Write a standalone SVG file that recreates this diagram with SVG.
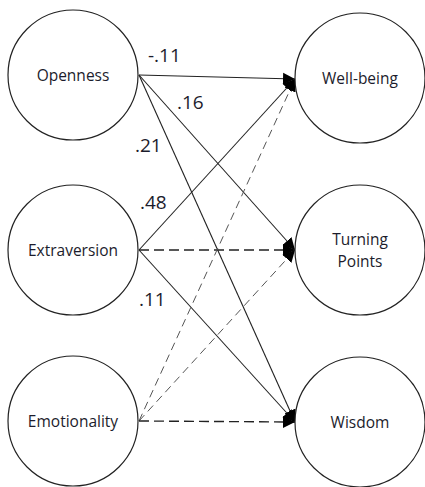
<svg xmlns="http://www.w3.org/2000/svg" width="425" height="487" viewBox="0 0 425 487">
<defs>
<style>
.node circle{fill:#fff;stroke:#222;stroke-width:1.2}
.node text{font-family:"Open Sans","Liberation Sans",sans-serif;font-size:15.5px;fill:#1c1c2c;text-anchor:middle}
.lbl{font-family:"Open Sans","Liberation Sans",sans-serif;font-size:19px;fill:#1c1c2c}
.solid{stroke:#222;stroke-width:1.1;fill:none}
.dash{stroke:#222;stroke-width:1.4;fill:none;stroke-dasharray:10 5}
.ldash{stroke:#555;stroke-width:1;fill:none;stroke-dasharray:8 5}
</style>
<marker id="arr" viewBox="0 0 12 14" refX="12" refY="7" markerWidth="12" markerHeight="14" markerUnits="userSpaceOnUse" orient="auto">
<path d="M0,1 L12,7 L0,13 Z" fill="#000"/>
</marker>
</defs>
<g id="connectors">
<line class="solid" x1="139" y1="75" x2="295" y2="79" marker-end="url(#arr)"/>
<line class="solid" x1="139" y1="75" x2="295" y2="250" marker-end="url(#arr)"/>
<line class="solid" x1="139" y1="75" x2="295" y2="422" marker-end="url(#arr)"/>
<line class="solid" x1="139" y1="250" x2="295" y2="79" marker-end="url(#arr)"/>
<line class="dash" x1="139" y1="250" x2="295" y2="250" marker-end="url(#arr)"/>
<line class="solid" x1="139" y1="250" x2="295" y2="422" marker-end="url(#arr)"/>
<line class="ldash" x1="139" y1="421" x2="295" y2="79" marker-end="url(#arr)"/>
<line class="ldash" x1="139" y1="421" x2="295" y2="250" marker-end="url(#arr)"/>
<line class="dash" x1="139" y1="421" x2="295" y2="422" marker-end="url(#arr)"/>
<text class="lbl" x="148" y="62">-.11</text>
<text class="lbl" x="177" y="109">.16</text>
<text class="lbl" x="135" y="152">.21</text>
<text class="lbl" x="140" y="209">.48</text>
<text class="lbl" x="139" y="306">.11</text>
</g>
<g id="openness" class="node"><circle cx="73" cy="75" r="65"/><text x="73" y="81">Openness</text></g>
<g id="extraversion" class="node"><circle cx="73" cy="250" r="65"/><text x="73" y="256">Extraversion</text></g>
<g id="emotionality" class="node"><circle cx="73" cy="421" r="65"/><text x="73" y="427">Emotionality</text></g>
<g id="wellbeing" class="node"><circle cx="360" cy="78" r="65"/><text x="360" y="84">Well-being</text></g>
<g id="turning" class="node"><circle cx="360" cy="250" r="65"/><text x="360" y="245">Turning</text><text x="360" y="267">Points</text></g>
<g id="wisdom" class="node"><circle cx="360" cy="422" r="65"/><text x="360" y="428">Wisdom</text></g>
</svg>
